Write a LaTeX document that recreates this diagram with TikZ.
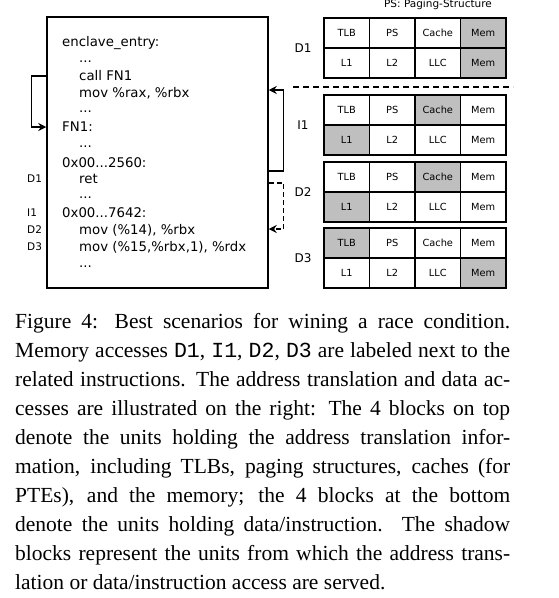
\documentclass[tikz,border=0pt]{standalone}
\usepackage{fontspec}
\setmainfont{Liberation Serif}
\setmonofont{Liberation Mono}
\newfontfamily\dvsans{DejaVu Sans}
\usetikzlibrary{arrows.meta,calc}
\definecolor{shadow}{gray}{0.75}
\tikzset{
  cell/.style={draw, line width=1.4pt, minimum width=45.5pt, minimum height=30pt, inner sep=0pt, font=\dvsans\fontsize{9.8}{11}\selectfont},
  code/.style={anchor=west, inner sep=0pt, font=\dvsans\fontsize{13.3}{15}\selectfont},
  tag/.style={anchor=west, inner sep=0pt, font=\dvsans\fontsize{10.5}{12}\selectfont},
  blk/.style={inner sep=0pt, font=\dvsans\fontsize{12}{14}\selectfont},
  flow/.style={line width=1.4pt, -{Stealth[length=8pt,width=8pt]}},
}
\begin{document}
\begin{tikzpicture}[x=1pt, y=-1pt]
  \useasboundingbox (0,0) rectangle (558,598);
  % program listing
  \node[draw, line width=1.5pt, minimum width=221pt, minimum height=271pt, inner sep=0pt] (prog) at (157.5,152.5) {};
  \node[code] (entry) at (62,43) {enclave\_entry:};
  \node[code] (dots1) at (79,62) {...};
  \node[code] (call) at (79,76) {call FN1};
  \node[code] (movrax) at (79,93) {mov \%rax, \%rbx};
  \node[code] (dots2) at (79,112) {...};
  \node[code] (fn) at (62,127) {FN1:};
  \node[code] (dots3) at (79,147) {...};
  \node[code] (addra) at (62,163) {0x00...2560:};
  \node[code] (ret) at (79,179) {ret};
  \node[code] (dots4) at (79,198) {...};
  \node[code] (addrb) at (62,213) {0x00...7642:};
  \node[code] (mov14) at (79,230) {mov (\%14), \%rbx};
  \node[code] (mov15) at (79,247) {mov (\%15,\%rbx,1), \%rdx};
  \node[code] (dots5) at (79,267) {...};
  % access tags
  \node[tag] (tagd1) at (27,179) {D1};
  \node[tag] (tagi1) at (27,213) {I1};
  \node[tag] (tagd2) at (27,230) {D2};
  \node[tag] (tagd3) at (27,247) {D3};
  % control flow
  \draw[flow] (prog.west |- call) -- ++(-15,0) |- (prog.west |- fn);
  \draw[flow] ($(prog.east |- ret)+(0,-8)$) -- ++(15,0) |- ($(prog.east |- movrax)+(0,-3)$);
  \draw[flow, dash pattern=on 5pt off 3pt] ($(prog.east |- ret)+(0,4)$) -- ++(15,0) |- ($(prog.east |- mov14)+(0,-1)$);
  % translation / data blocks
  \node[tag, anchor=center] (legend) at (438,5) {PS: Paging-Structure};
  \foreach \nm/\ty/\lab/\sa/\sb in {d1/18/D1/4/4, i1/95/I1/3/1, d2/162/D2/3/1, d3/228/D3/1/4}{
    \node[blk] (\nm-lab) at (303,\ty+30) {\lab};
    \foreach \c/\ta/\tb in {1/TLB/L1, 2/PS/L2, 3/Cache/LLC, 4/Mem/Mem}{
      \ifnum\c=\sa \def\fa{shadow}\else\def\fa{white}\fi
      \ifnum\c=\sb \def\fb{shadow}\else\def\fb{white}\fi
      \node[cell, fill=\fa] (\nm-t\c) at (301.25+45.5*\c,\ty+15) {\ta};
      \node[cell, fill=\fb] (\nm-b\c) at (301.25+45.5*\c,\ty+45) {\tb};
    }
  }
  \draw[line width=1.5pt, dash pattern=on 6pt off 4pt] (293,87) -- (513,87);
  % caption
  \node[anchor=base west, inner sep=0pt, text width=495pt, align=justify, font=\fontsize{21.5}{29}\selectfont] (cap) at (15,328)
    {Figure 4: Best scenarios for wining a race condition.\linebreak
     Memory accesses \texttt{D1}, \texttt{I1}, \texttt{D2}, \texttt{D3} are labeled next to the\linebreak
     related instructions. The address translation and data ac-\linebreak
     cesses are illustrated on the right: The 4 blocks on top\linebreak
     denote the units holding the address translation infor-\linebreak
     mation, including TLBs, paging structures, caches (for\linebreak
     PTEs), and the memory; the 4 blocks at the bottom\linebreak
     denote the units holding data/instruction. The shadow\linebreak
     blocks represent the units from which the address trans-\linebreak
     lation or data/instruction access are served.};
\end{tikzpicture}
\end{document}
